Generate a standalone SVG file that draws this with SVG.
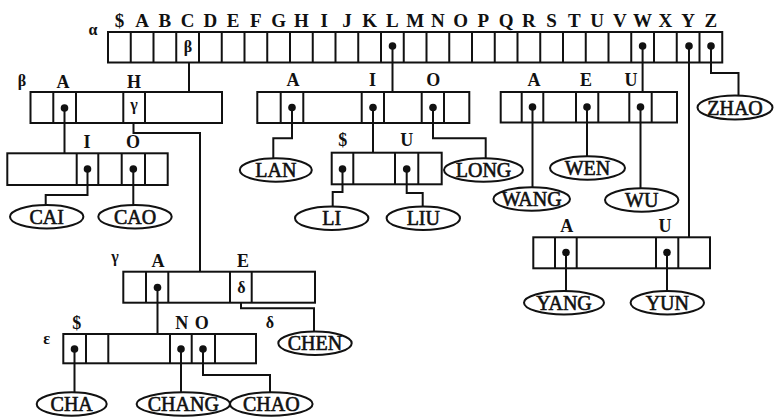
<svg xmlns="http://www.w3.org/2000/svg" width="774" height="417" viewBox="0 0 774 417">
<style>
.box{fill:none;stroke:#111;stroke-width:2}
.dv{stroke:#111;stroke-width:2}
.ln{fill:none;stroke:#111;stroke-width:2}
.dot{fill:#111}
.el{fill:#fff;stroke:#111;stroke-width:2}
.lb{font-family:"Liberation Serif",serif;font-weight:bold;font-size:18px;text-anchor:middle;fill:#111}
.hd{font-family:"Liberation Serif",serif;font-weight:bold;font-size:19px;text-anchor:middle;fill:#111}
.gk{font-family:"Liberation Serif",serif;font-weight:bold;font-size:16px;text-anchor:middle;fill:#111}
.nm{font-family:"Liberation Serif",serif;font-size:20px;text-anchor:middle;fill:#111;stroke:#111;stroke-width:0.6}
</style>
<rect width="774" height="417" fill="#fff"/>

<g id="alpha">
<text class="gk" x="93" y="35">α</text>
<g class="hd">
<text x="119.4" y="27">$</text><text x="142.1" y="27">A</text><text x="164.9" y="27">B</text><text x="187.6" y="27">C</text><text x="210.4" y="27">D</text><text x="233.1" y="27">E</text><text x="255.9" y="27">F</text><text x="278.6" y="27">G</text><text x="301.4" y="27">H</text><text x="324.1" y="27">I</text><text x="346.9" y="27">J</text><text x="369.6" y="27">K</text><text x="392.4" y="27">L</text><text x="415.1" y="27">M</text><text x="437.9" y="27">N</text><text x="460.6" y="27">O</text><text x="483.4" y="27">P</text><text x="506.1" y="27">Q</text><text x="528.9" y="27">R</text><text x="551.6" y="27">S</text><text x="574.4" y="27">T</text><text x="597.1" y="27">U</text><text x="619.9" y="27">V</text><text x="642.6" y="27">W</text><text x="665.4" y="27">X</text><text x="688.1" y="27">Y</text><text x="710.9" y="27">Z</text>
</g>
<rect class="box" x="108" y="32" width="614.25" height="30.5"/>
<path class="dv" d="M130.75 32v30.5M153.5 32v30.5M176.25 32v30.5M199 32v30.5M221.75 32v30.5M244.5 32v30.5M267.25 32v30.5M290 32v30.5M312.75 32v30.5M335.5 32v30.5M358.25 32v30.5M381 32v30.5M403.75 32v30.5M426.5 32v30.5M449.25 32v30.5M472 32v30.5M494.75 32v30.5M517.5 32v30.5M540.25 32v30.5M563 32v30.5M585.75 32v30.5M608.5 32v30.5M631.25 32v30.5M654 32v30.5M676.75 32v30.5M699.5 32v30.5"/>
<text class="gk" x="188" y="52">β</text>
<circle class="dot" cx="392.5" cy="46" r="3.8"/>
<circle class="dot" cx="642.6" cy="46" r="3.8"/>
<circle class="dot" cx="689" cy="46" r="3.8"/>
<circle class="dot" cx="711" cy="46" r="3.8"/>
</g>

<g id="beta">
<text class="gk" x="22" y="86">β</text>
<text class="lb" x="63" y="88">A</text><text class="lb" x="134" y="88">H</text>
<rect class="box" x="30.5" y="92" width="191.5" height="31"/>
<path class="dv" d="M53.3 92v31M76 92v31M123.3 92v31M145 92v31"/>
<circle class="dot" cx="64.5" cy="108" r="3.8"/>
<text class="gk" x="134" y="110">γ</text>
</g>

<g id="beta-A">
<text class="lb" x="87" y="148">I</text><text class="lb" x="133" y="148">O</text>
<rect class="box" x="7.3" y="153.3" width="160.4" height="31.7"/>
<path class="dv" d="M76.7 153.3v31.7M98.3 153.3v31.7M121.7 153.3v31.7M145 153.3v31.7"/>
<circle class="dot" cx="87.5" cy="169" r="3.8"/>
<circle class="dot" cx="133.3" cy="169" r="3.8"/>
</g>

<g id="L">
<text class="lb" x="293" y="86">A</text><text class="lb" x="372.5" y="86">I</text><text class="lb" x="433.3" y="86">O</text>
<rect class="box" x="257.3" y="92" width="212" height="31"/>
<path class="dv" d="M280.7 92v31M303.3 92v31M361.7 92v31M384 92v31M421.7 92v31M444 92v31"/>
<circle class="dot" cx="292" cy="107.5" r="3.8"/>
<circle class="dot" cx="373" cy="107.5" r="3.8"/>
<circle class="dot" cx="433" cy="107.5" r="3.8"/>
</g>

<g id="LI">
<text class="lb" x="342.7" y="146">$</text><text class="lb" x="406.7" y="146">U</text>
<rect class="box" x="331.7" y="152.7" width="110" height="31.6"/>
<path class="dv" d="M353.3 152.7v31.6M395 152.7v31.6M418.3 152.7v31.6"/>
<circle class="dot" cx="342.5" cy="169" r="3.8"/>
<circle class="dot" cx="406.7" cy="169" r="3.8"/>
</g>

<g id="W">
<text class="lb" x="534" y="86">A</text><text class="lb" x="586" y="86">E</text><text class="lb" x="631" y="86">U</text>
<rect class="box" x="500.7" y="92" width="176.3" height="30.5"/>
<path class="dv" d="M521.7 92v30.5M543.3 92v30.5M576 92v30.5M598.3 92v30.5M629.3 92v30.5M651.7 92v30.5"/>
<circle class="dot" cx="532.5" cy="107" r="3.8"/>
<circle class="dot" cx="587" cy="107" r="3.8"/>
<circle class="dot" cx="640.5" cy="107" r="3.8"/>
</g>

<g id="Y">
<text class="lb" x="566.7" y="232">A</text><text class="lb" x="665" y="232">U</text>
<rect class="box" x="533.3" y="237.3" width="176.7" height="31"/>
<path class="dv" d="M555 237.3v31M576.7 237.3v31M656 237.3v31M678.3 237.3v31"/>
<circle class="dot" cx="566" cy="252.5" r="3.8"/>
<circle class="dot" cx="667" cy="252.5" r="3.8"/>
</g>

<g id="gamma">
<text class="gk" x="115" y="262">γ</text>
<text class="lb" x="158" y="267">A</text><text class="lb" x="243" y="267">E</text>
<rect class="box" x="123.3" y="271.7" width="191.7" height="31"/>
<path class="dv" d="M146 271.7v31M168.3 271.7v31M230 271.7v31M251.7 271.7v31"/>
<circle class="dot" cx="157.5" cy="287.5" r="3.8"/>
<text class="gk" x="241.5" y="293">δ</text>
<text class="gk" x="270" y="328">δ</text>
</g>

<g id="epsilon">
<text class="gk" x="46.7" y="344">ε</text>
<text class="lb" x="76.7" y="329">$</text><text class="lb" x="181.7" y="329">N</text><text class="lb" x="201.7" y="329">O</text>
<rect class="box" x="63.3" y="334" width="192.7" height="29.3"/>
<path class="dv" d="M86 334v29.3M108.3 334v29.3M170 334v29.3M191.7 334v29.3M215 334v29.3"/>
<circle class="dot" cx="74.5" cy="349" r="3.8"/>
<circle class="dot" cx="181" cy="349" r="3.8"/>
<circle class="dot" cx="203" cy="349" r="3.8"/>
</g>

<g id="connectors">
<path class="ln" d="M189 62.5V92"/>
<path class="ln" d="M392.5 46V92"/>
<path class="ln" d="M642.6 46V92"/>
<path class="ln" d="M689 46V237.3"/>
<path class="ln" d="M711 46V73H738.5V95"/>
<path class="ln" d="M64.5 108V153.3"/>
<path class="ln" d="M133.5 123V133H200V271.7"/>
<path class="ln" d="M87.5 169V195H45.7V205"/>
<path class="ln" d="M133.3 169V205"/>
<path class="ln" d="M292 107.5V138.3H273.3V158.3"/>
<path class="ln" d="M373 107.5V152.7"/>
<path class="ln" d="M433 107.5V138.3H485.7V158.3"/>
<path class="ln" d="M342.5 169V192H332.7V206.7"/>
<path class="ln" d="M406.7 169V193H422.7V206.7"/>
<path class="ln" d="M532.5 107V187.3"/>
<path class="ln" d="M587 107V156"/>
<path class="ln" d="M640.5 107V188.3"/>
<path class="ln" d="M566 252.5V291"/>
<path class="ln" d="M667 252.5V291"/>
<path class="ln" d="M157.5 287.5V334"/>
<path class="ln" d="M241 302.7V308.3H314V331.7"/>
<path class="ln" d="M74.5 349V392.3"/>
<path class="ln" d="M181 349V392.3"/>
<path class="ln" d="M203 349V375H270V392.3"/>
</g>

<g id="CAI"><ellipse class="el" cx="46.7" cy="216.7" rx="36.7" ry="11.7"/><text class="nm" x="46.7" y="223.7">CAI</text></g>
<g id="CAO"><ellipse class="el" cx="135" cy="216.7" rx="36.7" ry="11.7"/><text class="nm" x="135" y="223.7">CAO</text></g>
<g id="LAN"><ellipse class="el" cx="275.8" cy="170" rx="36" ry="11.7"/><text class="nm" x="275.8" y="177">LAN</text></g>
<g id="LONG"><ellipse class="el" cx="483.5" cy="170" rx="39.5" ry="11.7"/><text class="nm" x="483.5" y="177">LONG</text></g>
<g id="LI-n"><ellipse class="el" cx="331.7" cy="218.3" rx="36.7" ry="11.7"/><text class="nm" x="331.7" y="225.3">LI</text></g>
<g id="LIU"><ellipse class="el" cx="423.3" cy="218.3" rx="36.7" ry="11.7"/><text class="nm" x="423.3" y="225.3">LIU</text></g>
<g id="WANG"><ellipse class="el" cx="531.7" cy="199" rx="38.3" ry="11.7"/><text class="nm" x="531.7" y="206">WANG</text></g>
<g id="WEN"><ellipse class="el" cx="587.5" cy="168" rx="37.5" ry="11.7"/><text class="nm" x="587.5" y="175">WEN</text></g>
<g id="WU"><ellipse class="el" cx="641.7" cy="200" rx="36.7" ry="11.7"/><text class="nm" x="641.7" y="207">WU</text></g>
<g id="ZHAO"><ellipse class="el" cx="735" cy="107.5" rx="37.5" ry="12"/><text class="nm" x="735" y="114.5">ZHAO</text></g>
<g id="YANG"><ellipse class="el" cx="564" cy="302.7" rx="40" ry="11.7"/><text class="nm" x="564" y="309.7">YANG</text></g>
<g id="YUN"><ellipse class="el" cx="667.3" cy="302.7" rx="36.7" ry="11.7"/><text class="nm" x="667.3" y="309.7">YUN</text></g>
<g id="CHEN"><ellipse class="el" cx="315" cy="343.3" rx="36.7" ry="11.7"/><text class="nm" x="315" y="350.3">CHEN</text></g>
<g id="CHA"><ellipse class="el" cx="71.7" cy="404" rx="35" ry="11.7"/><text class="nm" x="71.7" y="411">CHA</text></g>
<g id="CHANG"><ellipse class="el" cx="183.3" cy="404" rx="46.7" ry="11.7"/><text class="nm" x="183.3" y="411">CHANG</text></g>
<g id="CHAO"><ellipse class="el" cx="271.3" cy="404" rx="41.3" ry="11.7"/><text class="nm" x="271.3" y="411">CHAO</text></g>
</svg>
